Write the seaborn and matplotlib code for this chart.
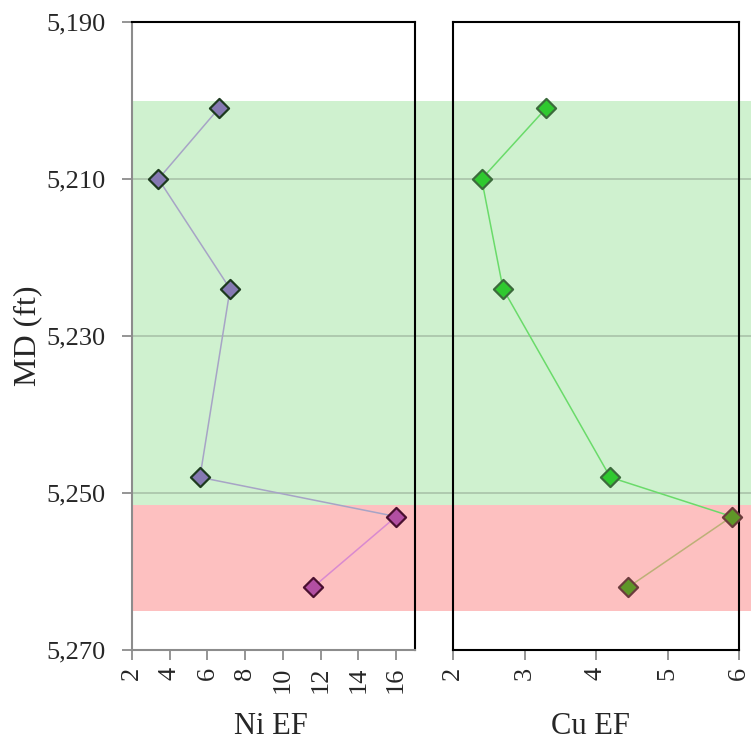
import matplotlib
matplotlib.use("Agg")
import matplotlib.pyplot as plt
import seaborn as sns
import pandas as pd

# Sample depths (MD, ft) and enrichment factors
depth = [5201, 5210, 5224, 5248, 5253, 5262]
ni_ef = [6.6, 3.4, 7.2, 5.6, 16.0, 11.6]
cu_ef = [3.3, 2.4, 2.7, 4.2, 5.9, 4.45]
zone = ["upper", "upper", "upper", "upper", "lower", "lower"]

# Depth intervals shaded behind the logs
upper_zone = (5200, 5251.5)
lower_zone = (5251.5, 5265)

y_ticks = [5190, 5210, 5230, 5250, 5270]
ni_ticks = [2, 4, 6, 8, 10, 12, 14, 16]
cu_ticks = [2, 3, 4, 5, 6]

df = pd.DataFrame({"depth": depth, "Ni": ni_ef, "Cu": cu_ef, "zone": zone})

sns.set_style("white")
plt.rcParams["font.family"] = ["Liberation Serif", "DejaVu Serif"]

fig = plt.figure(figsize=(7.51, 7.52), dpi=100)

W, H = 751, 752
def frac(x0, y0, x1, y1):
    return [x0 / W, 1 - y1 / H, (x1 - x0) / W, (y1 - y0) / H]

# Shared background: zone shading and depth grid across both tracks
bg = fig.add_axes(frac(132, 22, 751, 650), zorder=0)
bg.set_ylim(5270, 5190)
bg.set_xlim(0, 1)
bg.axhspan(*upper_zone, color="#cff1cf", lw=0)
bg.axhspan(*lower_zone, color="#fdc0c0", lw=0)
for yv in [5210, 5230, 5250]:
    bg.axhline(yv, color="#a9c3a9", lw=1.2)
bg.axis("off")

ax1 = fig.add_axes(frac(132, 22, 415, 650), zorder=2)
ax2 = fig.add_axes(frac(453, 22, 739, 650), zorder=2)

styles = {
    "Ni": {"upper": dict(line="#a7a4c6", face="#8579b2", edge="#1d3a1f"),
           "lower": dict(line="#d98ad0", face="#b24fa2", edge="#4a1030")},
    "Cu": {"upper": dict(line="#6adb6a", face="#2fc92f", edge="#3b6b3b"),
           "lower": dict(line="#bdb077", face="#5f9628", edge="#6a3c3c")},
}

for ax, col in [(ax1, "Ni"), (ax2, "Cu")]:
    upper_line = df.iloc[:5]
    lower_line = df.iloc[4:]
    sns.lineplot(data=upper_line, x=col, y="depth", sort=False, estimator=None,
                 color=styles[col]["upper"]["line"], lw=1.1, ax=ax, zorder=3)
    sns.lineplot(data=lower_line, x=col, y="depth", sort=False, estimator=None,
                 color=styles[col]["lower"]["line"], lw=1.1, ax=ax, zorder=3)
    for z in ["upper", "lower"]:
        sub = df[df["zone"] == z]
        sns.scatterplot(data=sub, x=col, y="depth", marker="D", s=95,
                        color=styles[col][z]["face"],
                        edgecolor=styles[col][z]["edge"], linewidth=1.6,
                        ax=ax, zorder=4, clip_on=False)
    ax.set_ylim(5270, 5190)
    ax.set_facecolor("none")
    ax.set_ylabel("")
    ax.set_xlabel("")

ax1.set_xlim(2, 17)
ax2.set_xlim(2, 6)
ax1.set_xticks(ni_ticks)
ax2.set_xticks(cu_ticks)
ax1.set_yticks(y_ticks)
ax1.set_yticklabels([f"{v:,}" for v in y_ticks])
ax2.set_yticks([])

for ax in (ax1, ax2):
    ax.tick_params(axis="x", direction="out", length=7, width=1.3,
                   color="#8c8c8c", labelsize=19, labelrotation=90, pad=5,
                   bottom=True)
ax1.tick_params(axis="y", direction="out", length=7, width=1.3,
                color="#8c8c8c", labelsize=19, pad=12, left=True)

for ax in (ax1, ax2):
    for s in ax.spines.values():
        s.set_visible(True)
        s.set_color("black")
        s.set_linewidth(1.5)
ax1.spines["left"].set_color("#8c8c8c")
ax1.spines["bottom"].set_color("#8c8c8c")

# Track titles below each log and the shared depth label
fig.text(271 / W, 1 - 727 / H, "Ni EF", fontsize=22, ha="center", va="center")
fig.text(590 / W, 1 - 727 / H, "Cu EF", fontsize=22, ha="center", va="center")
fig.text(28 / W, 1 - 336 / H, "MD (ft)", rotation=90, fontsize=23,
         ha="center", va="center")

fig.savefig("out.png", dpi=100)
